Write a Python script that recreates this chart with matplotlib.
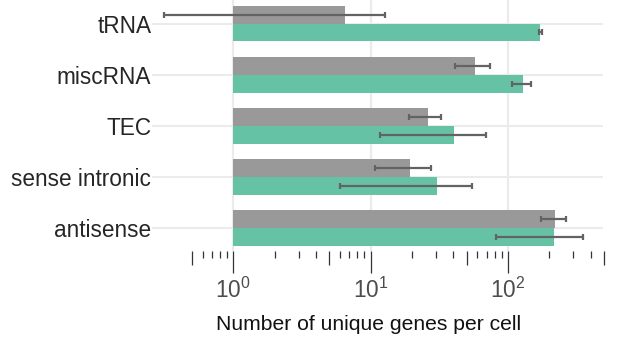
import numpy as np
import matplotlib
matplotlib.use("Agg")
import matplotlib.pyplot as plt
from matplotlib.markers import TICKDOWN
from matplotlib.ticker import FixedLocator, LogFormatterMathtext, NullFormatter

plt.rcParams['font.family'] = ['Liberation Sans', 'DejaVu Sans']
plt.rcParams['mathtext.fontset'] = 'custom'
plt.rcParams['mathtext.rm'] = 'Liberation Sans'
plt.rcParams['mathtext.it'] = 'Liberation Sans'

# categories, bottom to top
categories = ['antisense', 'sense intronic', 'TEC', 'miscRNA', 'tRNA']

# grey series (upper bar in each group)
grey_val = [221, 19.2, 26.1, 57.5, 6.56]
grey_lo = [174, 10.8, 19.0, 41.0, 0.311]
grey_hi = [264, 27.4, 32.8, 74.4, 12.8]

# green series (lower bar in each group)
green_val = [217, 30.3, 40.4, 129, 172]
green_lo = [82.3, 5.97, 11.7, 107, 168]
green_hi = [352, 54.3, 68.8, 147, 176]

grey_col = '#999999'
green_col = '#66c2a5'
err_col = '#636363'
grid_col = '#ebebeb'

fig = plt.figure(figsize=(6.19, 3.41), dpi=100)
W, H = 619, 341
ax_left, ax_right, ax_top, ax_bot = 152, 603, 0, 251
ax = fig.add_axes([ax_left / W, 1 - ax_bot / H, (ax_right - ax_left) / W, (ax_bot - ax_top) / H])

y = np.arange(len(categories))
h = 0.35

def draw_series(vals, lo, hi, offset, col):
    vals = np.array(vals)
    err = np.vstack([vals - np.array(lo), np.array(hi) - vals])
    ax.barh(y + offset, vals - 1, left=1, height=h, color=col, zorder=2)
    ax.errorbar(vals, y + offset, xerr=err, fmt='none', ecolor=err_col,
                elinewidth=1.6, capsize=2.2, capthick=1.6, zorder=3)

draw_series(grey_val, grey_lo, grey_hi, h / 2, grey_col)
draw_series(green_val, green_lo, green_hi, -h / 2, green_col)

ax.set_xscale('log')
ax.set_xlim(0.256, 492)
ax.set_ylim(-0.443, 4.459)

for s in ax.spines.values():
    s.set_visible(False)

ax.set_yticks(y)
ax.set_yticklabels(categories, fontsize=16.3, color='#262626')
ax.tick_params(axis='y', length=0, pad=0.5)

# horizontal grid lines at categories
for yy in y:
    ax.axhline(yy, color=grid_col, lw=1.5, zorder=0)

majors = [1, 10, 100]
for xx in majors:
    ax.axvline(xx, color=grid_col, lw=1.6, zorder=0)

# log ticks: long at decades, medium at 5s, short elsewhere
minors = [m * 10.0 ** k for k in range(-1, 3) for m in range(2, 10)]
minors = [v for v in minors if 0.45 < v < 550]
mids = [0.5, 5, 50, 500]

ax.xaxis.set_major_locator(FixedLocator(majors))
ax.xaxis.set_major_formatter(LogFormatterMathtext())
ax.xaxis.set_minor_locator(FixedLocator([v for v in minors if v not in mids]))
ax.xaxis.set_minor_formatter(NullFormatter())
ax.tick_params(axis='x', which='major', length=15.5, width=0.9, color='#333333',
               labelsize=16.3, labelcolor='#4d4d4d', pad=4)
ax.tick_params(axis='x', which='minor', length=5.2, width=0.9, color='#333333')

ax.plot(mids, [0] * len(mids), linestyle='none', marker=TICKDOWN, markersize=10.3,
        markeredgewidth=0.9, color='#333333', transform=ax.get_xaxis_transform(),
        clip_on=False)

ax.set_xlabel('Number of unique genes per cell', fontsize=15.2, color='#111111')
ax.xaxis.set_label_coords((368.5 - ax_left) / (ax_right - ax_left), -(315 - ax_bot) / (ax_bot - ax_top))
ax.xaxis.label.set_va('top')

fig.savefig('out.png', dpi=100)
